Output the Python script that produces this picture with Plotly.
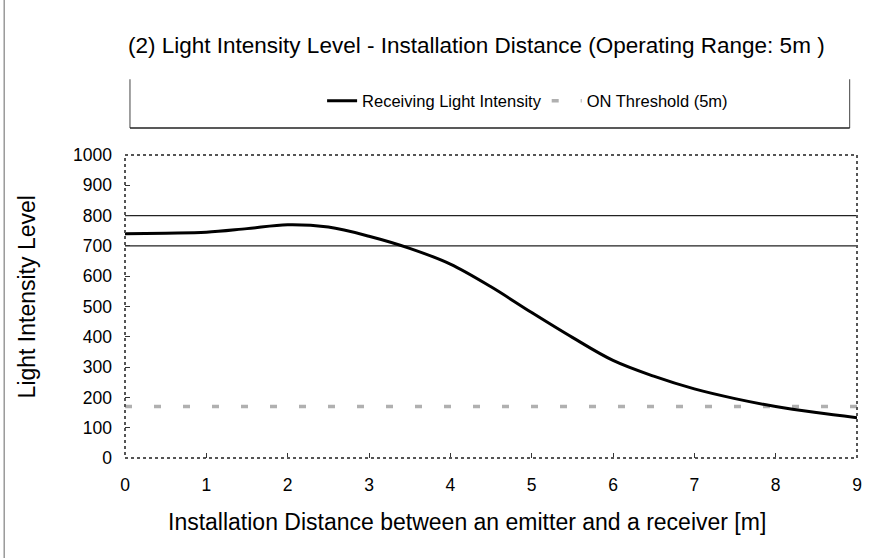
import plotly.graph_objects as go

# Receiving light intensity vs. installation distance
distance_m = [0, 0.5, 1, 1.5, 2, 2.5, 3, 3.5, 4, 4.5, 5, 5.5, 6, 6.5, 7, 7.5, 8, 8.5, 9]
intensity = [740, 742, 745, 757, 770, 762, 732, 692, 640, 565, 480, 398, 322, 270, 228, 196, 170, 150, 133]

# ON threshold for 5 m operating range
threshold_x = [0, 9]
threshold_y = [170, 170]

# Reference levels drawn as horizontal rules
reference_levels = [700, 800]

x_ticks = [0, 1, 2, 3, 4, 5, 6, 7, 8, 9]
y_ticks = [0, 100, 200, 300, 400, 500, 600, 700, 800, 900, 1000]

FONT = "Liberation Sans, Arial, sans-serif"

fig = go.Figure()

fig.add_trace(go.Scatter(
    x=threshold_x, y=threshold_y, mode="lines",
    name="ON Threshold (5m)",
    line=dict(color="#b0b0b0", width=3.5, dash="7px,22px"),
))

fig.add_trace(go.Scatter(
    x=distance_m, y=intensity, mode="lines",
    name="Receiving Light Intensity",
    line=dict(color="black", width=3, shape="spline", smoothing=1.0),
))

shapes = []
for lvl in reference_levels:
    shapes.append(dict(type="line", xref="paper", yref="y", x0=0, x1=1, y0=lvl, y1=lvl,
                       line=dict(color="#222", width=1.2), layer="below"))

# dotted frame of the plotting area
shapes.append(dict(type="rect", xref="paper", yref="paper", x0=0, x1=1, y0=0, y1=1,
                   line=dict(color="#555", width=2, dash="dot")))

# open-topped legend box
box_l, box_r, box_b, box_t = 0.0068, 0.990, 1.089, 1.25
shapes.append(dict(type="line", xref="paper", yref="paper", x0=box_l, x1=box_l, y0=box_b, y1=box_t,
                   line=dict(color="#444", width=1)))
shapes.append(dict(type="line", xref="paper", yref="paper", x0=box_r, x1=box_r, y0=box_b, y1=box_t,
                   line=dict(color="#444", width=1)))
shapes.append(dict(type="line", xref="paper", yref="paper", x0=box_l, x1=box_r, y0=box_b, y1=box_b,
                   line=dict(color="#222", width=1.5)))

# page edge rule on the left
shapes.append(dict(type="line", xref="paper", yref="paper", x0=-0.165, x1=-0.165, y0=-0.34, y1=1.52,
                   line=dict(color="#999", width=1.5)))

annotations = [
    dict(text="Installation Distance between an emitter and a receiver [m]",
         xref="paper", yref="paper", x=0.467, y=-0.21, xanchor="center", yanchor="middle",
         showarrow=False, font=dict(size=23, family=FONT, color="black")),
    dict(text="Light Intensity Level",
         xref="paper", yref="paper", x=-0.134, y=0.533, xanchor="center", yanchor="middle",
         textangle=-90, showarrow=False, font=dict(size=23, family=FONT, color="black")),
]

fig.update_layout(
    width=874, height=558,
    margin=dict(l=125, r=17, t=155, b=100),
    paper_bgcolor="white", plot_bgcolor="white",
    font=dict(family=FONT, color="black", size=16),
    title=dict(text="(2) Light Intensity Level - Installation Distance (Operating Range: 5m )",
               x=0.545, xanchor="center", y=0.92, yanchor="middle",
               font=dict(size=22.5, family=FONT, color="black")),
    showlegend=True,
    legend=dict(orientation="h", x=0.55, xanchor="center", y=1.178, yanchor="middle",
                traceorder="reversed", font=dict(size=16.5, family=FONT),
                bgcolor="rgba(0,0,0,0)"),
    shapes=shapes,
    annotations=annotations,
    xaxis=dict(range=[0, 9], tickvals=x_ticks, ticks="inside", ticklen=5, tickcolor="#333",
               showgrid=False, zeroline=False, showline=False,
               ticklabelstandoff=14,
               tickfont=dict(size=17.5, family=FONT)),
    yaxis=dict(range=[0, 1000], tickvals=y_ticks, ticks="inside", ticklen=5, tickcolor="#333",
               showgrid=False, zeroline=False, showline=False,
               ticklabelstandoff=12,
               tickfont=dict(size=17.5, family=FONT)),
)

fig.write_html("out.html")
